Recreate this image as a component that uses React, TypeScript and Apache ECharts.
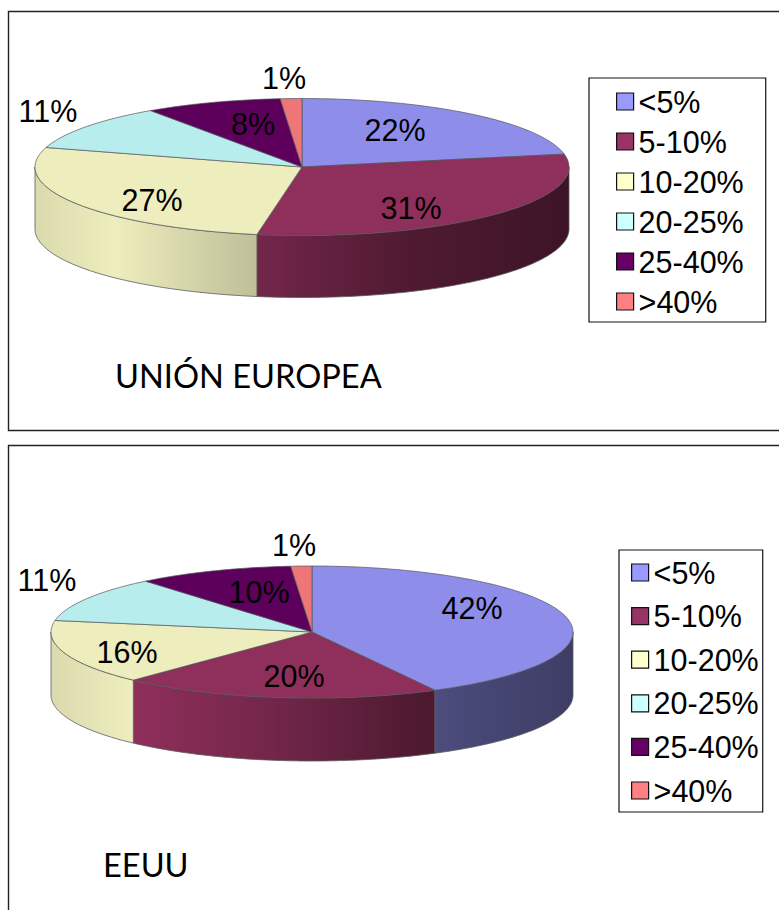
import React, { useEffect, useRef } from "react";
import * as echarts from "echarts";

const categories = ["<5%", "5-10%", "10-20%", "20-25%", "25-40%", ">40%"];
const euValues = [22, 30.7, 26.9, 10.8, 8.3, 1.3];
const usValues = [42.2, 19.8, 15.8, 11.2, 9.7, 1.3];
const topColors = ["#8e8eea", "#8f2f5b", "#ededbd", "#b8eded", "#5c005c", "#ee7676"];
const legendColors = ["#9999ff", "#993366", "#ffffcc", "#ccffff", "#660066", "#ff8080"];

const euGeom = { cx: 302, cy: 167, rx: 267, ry: 68.5, depth: 62 };
const usGeom = { cx: 312, cy: 632, rx: 261, ry: 66, depth: 63 };
const euLabelPos = [[395, 130], [411, 208], [152, 200], [48, 111], [253, 124], [284, 78]];
const usLabelPos = [[472, 608], [294, 676], [127, 652], [47, 580], [259, 592], [294, 545]];

const FONT = "'Liberation Sans', Arial, sans-serif";
const shadeStops: [number, number][] = [[0, 0.92], [0.15, 1], [0.4, 0.82], [0.7, 0.55], [1, 0.43]];

function shade(hex: string, k: number) {
  const n = parseInt(hex.slice(1), 16);
  const c = [(n >> 16) & 255, (n >> 8) & 255, n & 255].map((v) => Math.round(v * k));
  return `rgb(${c[0]},${c[1]},${c[2]})`;
}

function pt(g: any, deg: number, dy = 0) {
  const a = (deg * Math.PI) / 180;
  return [g.cx + Math.sin(a) * g.rx, g.cy - Math.cos(a) * g.ry + dy];
}

function arcPts(g: any, a0: number, a1: number, dy = 0) {
  const out: number[][] = [];
  const n = Math.max(2, Math.ceil(Math.abs(a1 - a0)));
  for (let i = 0; i <= n; i++) out.push(pt(g, a0 + ((a1 - a0) * i) / n, dy));
  return out;
}

const toPath = (pts: number[][]) =>
  pts.map((p, i) => `${i ? "L" : "M"}${p[0].toFixed(2)} ${p[1].toFixed(2)}`).join(" ") + " Z";

function pieSeries(values: number[], g: any, labelPos: number[][]) {
  let acc = 0;
  return values.map((v, i) => {
    const start = acc;
    acc += v;
    return {
      type: "custom",
      name: categories[i],
      coordinateSystem: "none",
      silent: true,
      data: [[start, start + v, v]],
      renderItem: (_p: any, api: any) => {
        const a0 = (api.value(0) / 100) * 360;
        const a1 = (api.value(1) / 100) * 360;
        const children: any[] = [];
        const s0 = Math.max(a0, 90);
        const s1 = Math.min(a1, 270);
        if (s1 > s0) {
          const pts = [...arcPts(g, s0, s1), ...arcPts(g, s1, s0, g.depth)];
          children.push({
            type: "path",
            shape: { pathData: toPath(pts) },
            style: {
              fill: new echarts.graphic.LinearGradient(
                g.cx - g.rx, 0, g.cx + g.rx, 0,
                shadeStops.map(([offset, k]) => ({ offset, color: shade(topColors[i], k) })),
                true
              ),
              stroke: "#5a5a5a",
              lineWidth: 0.8,
            },
          });
        }
        children.push({
          type: "path",
          shape: { pathData: toPath([[g.cx, g.cy], ...arcPts(g, a0, a1)]) },
          style: { fill: topColors[i], stroke: "#55555a", lineWidth: 0.7 },
        });
        children.push({
          type: "text",
          z2: 10,
          style: {
            text: `${Math.round(api.value(2))}%`,
            x: labelPos[i][0],
            y: labelPos[i][1],
            align: "center",
            verticalAlign: "middle",
            font: `30.5px ${FONT}`,
            fill: "#000",
          },
        });
        return { type: "group", children };
      },
    };
  });
}

function legendFor(left: number, top: number, gap: number, padding: number[]) {
  return {
    orient: "vertical",
    left,
    top,
    padding,
    itemGap: gap,
    itemWidth: 17,
    itemHeight: 17,
    icon: "rect",
    selectedMode: false,
    backgroundColor: "#fff",
    borderColor: "#111",
    borderWidth: 1.2,
    textStyle: { fontFamily: FONT, fontSize: 30.5, lineHeight: 30, color: "#000" },
    data: categories.map((name, i) => ({
      name,
      icon: "rect",
      itemStyle: { color: legendColors[i], borderColor: "#111", borderWidth: 1.2 },
    })),
  };
}

export default function App() {
  const ref = useRef<HTMLDivElement>(null);
  useEffect(() => {
    document.body.style.margin = "0";
    const chart = echarts.init(ref.current!, undefined, { renderer: "svg" });
    chart.setOption({
      animation: false,
      backgroundColor: "#fff",
      title: [
        { text: "UNIÓN EUROPEA", left: 115, top: 359, padding: 0, textStyle: { fontFamily: "Lato", fontSize: 32.6, fontWeight: "normal", color: "#000" } },
        { text: "EEUU", left: 103, top: 848, padding: 0, textStyle: { fontFamily: "Lato", fontSize: 32.6, fontWeight: "normal", color: "#000" } },
      ],
      legend: [
        legendFor(589, 78, 9, [8, 22, 5, 27]),
        legendFor(619, 550, 12.6, [7, 4, 6, 12]),
      ],
      graphic: [
        { type: "polyline", shape: { points: [[779, 11.5], [8.5, 11.5], [8.5, 430.5], [779, 430.5]] }, style: { fill: "none", stroke: "#222", lineWidth: 1.4 } },
        { type: "polyline", shape: { points: [[779, 445.5], [8.5, 445.5], [8.5, 910]] }, style: { fill: "none", stroke: "#222", lineWidth: 1.4 } },
      ],
      series: [...pieSeries(euValues, euGeom, euLabelPos), ...pieSeries(usValues, usGeom, usLabelPos)],
    });
    return () => chart.dispose();
  }, []);
  return <div ref={ref} style={{ position: "absolute", left: 0, top: 0, width: 779, height: 910 }} />;
}
